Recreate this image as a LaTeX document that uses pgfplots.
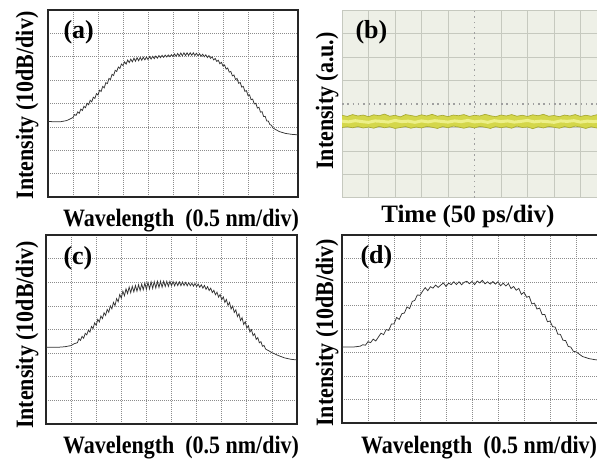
\documentclass[border=0pt]{standalone}
\usepackage{fontspec}
\setmainfont{Liberation Serif}
\newfontfamily\labfont[FakeStretch=0.88]{Liberation Serif}
\usepackage{pgfplots}
\pgfplotsset{compat=1.18}

\definecolor{gridgray}{gray}{0.55}
\definecolor{scopebg}{HTML}{EEF0E7}
\definecolor{scopegrid}{HTML}{C6C9BF}
\definecolor{trace}{HTML}{D4D74A}
\definecolor{tracedark}{HTML}{A9AB34}
\definecolor{tracelight}{HTML}{EDF08A}

\newcommand{\lab}{\labfont\bfseries\fontsize{25}{29}\selectfont}
\newcommand{\tlab}{\bfseries\fontsize{25}{29}\selectfont}
\newcommand{\plab}{\bfseries\fontsize{26}{30}\selectfont}

\pgfplotsset{
  panel/.style={
    scale only axis, xmin=0, xmax=10, ymin=0, ymax=8,
    xticklabels={}, yticklabels={},
    major tick length=0pt, grid=major,
    every axis x label/.style={at={(axis description cs:0.5,0)}, anchor=base},
    every axis y label/.style={at={(axis description cs:0,0.5)}, anchor=base, rotate=90},
    label style={font=\lab},
  },
  osa/.style={
    panel,
    xtick={1,...,9}, ytick={1,...,7},
    major grid style={gridgray, line width=0.7pt, dash pattern=on 1pt off 1pt},
    axis line style={black!85, line width=1.1pt},
  },
  spec/.style={black!80, line width=0.75pt},
}

\begin{document}
\begin{tikzpicture}
\useasboundingbox (0,0) rectangle (597pt,460pt);
\clip (0,0) rectangle (597pt,460pt);

% (a) spectrum
\begin{axis}[osa, at={(48pt,263pt)}, anchor=south west, width=250pt, height=187pt,
  xlabel={Wavelength\ \ (0.5 nm/div)}, ylabel={Intensity (10dB/div)},
  xlabel style={at={(axis description cs:0.532,0)}, yshift=-30pt},
  ylabel style={at={(axis description cs:0,0.49)}, yshift=15pt}]
\addplot[spec] coordinates {
(0,3.23) (0.25,3.22) (0.5,3.22) (0.75,3.27)
(1,3.40) (1.0625,3.53) (1.125,3.49) (1.1875,3.64)
(1.25,3.58) (1.3125,3.76) (1.375,3.70) (1.4375,3.88)
(1.5,3.82) (1.5625,4.01) (1.625,3.945) (1.6875,4.14)
(1.75,4.07) (1.8125,4.27) (1.875,4.215) (1.9375,4.42)
(2,4.36) (2.0625,4.57) (2.125,4.515) (2.1875,4.73)
(2.25,4.67) (2.3125,4.89) (2.375,4.85) (2.4375,5.07)
(2.5,5.03) (2.5625,5.25) (2.625,5.20) (2.6875,5.42)
(2.75,5.37) (2.8125,5.56) (2.875,5.495) (2.9375,5.69)
(3,5.62) (3.0625,5.78) (3.125,5.685) (3.1875,5.86)
(3.25,5.75) (3.3125,5.90) (3.375,5.78) (3.4375,5.94)
(3.5,5.81) (3.5625,5.96) (3.625,5.83) (3.6875,5.97)
(3.75,5.85) (3.8125,5.98) (3.875,5.865) (3.9375,5.99)
(4,5.88) (4.0625,6.01) (4.125,5.90) (4.1875,6.02)
(4.25,5.92) (4.3125,6.03) (4.375,5.94) (4.4375,6.05)
(4.5,5.96) (4.5625,6.06) (4.625,5.975) (4.6875,6.07)
(4.75,5.99) (4.8125,6.08) (4.875,6.00) (4.9375,6.09)
(5,6.01) (5.0625,6.12) (5.125,6.02) (5.1875,6.14)
(5.25,6.03) (5.3125,6.16) (5.375,6.04) (5.4375,6.17)
(5.5,6.05) (5.5625,6.17) (5.625,6.055) (5.6875,6.17)
(5.75,6.06) (5.8125,6.17) (5.875,6.05) (5.9375,6.15)
(6,6.04) (6.0625,6.13) (6.125,6.02) (6.1875,6.11)
(6.25,6.00) (6.3125,6.08) (6.375,5.965) (6.4375,6.05)
(6.5,5.93) (6.5625,6.00) (6.625,5.865) (6.6875,5.93)
(6.75,5.80) (6.8125,5.85) (6.875,5.70) (6.9375,5.76)
(7,5.60) (7.0625,5.65) (7.125,5.47) (7.1875,5.52)
(7.25,5.34) (7.3125,5.37) (7.375,5.185) (7.4375,5.22)
(7.5,5.03) (7.5625,5.07) (7.625,4.865) (7.6875,4.90)
(7.75,4.70) (7.8125,4.73) (7.875,4.52) (7.9375,4.55)
(8,4.34) (8.0625,4.37) (8.125,4.16) (8.1875,4.19)
(8.25,3.98) (8.3125,4.01) (8.375,3.805) (8.4375,3.84)
(8.5,3.63) (8.5625,3.65) (8.625,3.44) (8.6875,3.45)
(8.75,3.25) (8.8125,3.25) (8.875,3.10) (8.9375,3.07)
(9,2.95) (9.25,2.80) (9.5,2.72) (9.75,2.68) (10,2.66)
};
\node[anchor=base west, font=\plab, xshift=12pt, yshift=-29pt] at (rel axis cs:0,1) {(a)};
\end{axis}

% (b) oscilloscope trace
\begin{axis}[panel, at={(342pt,262pt)}, anchor=south west, width=265pt, height=188pt,
  axis background/.style={fill=scopebg},
  xtick={1,2,3,4,6,7,8,9}, ytick={1,2,3,5,6,7},
  major grid style={scopegrid, line width=0.8pt},
  axis line style={scopegrid, line width=1pt},
  xlabel={Time (50 ps/div)}, ylabel={Intensity (a.u.)},
  xlabel style={at={(axis description cs:0.475,0)}, yshift=-25pt, font=\tlab},
  ylabel style={at={(axis description cs:0,0.516)}, yshift=9pt}]
\addplot[gray!75, line width=1.2pt, dash pattern=on 1.5pt off 3.8pt] coordinates {(0,4) (10,4)};
\addplot[gray!75, line width=1.2pt, dash pattern=on 1.5pt off 3.8pt] coordinates {(5,0) (5,8)};
\addplot[fill=trace, draw=tracedark, line width=0.7pt] coordinates {
(0,3.52) (0.2,3.47) (0.4,3.55) (0.6,3.49) (0.8,3.53) (1,3.46) (1.2,3.54) (1.4,3.50)
(1.6,3.57) (1.8,3.48) (2,3.52) (2.2,3.45) (2.4,3.55) (2.6,3.51) (2.8,3.47) (3,3.54)
(3.2,3.49) (3.4,3.56) (3.6,3.48) (3.8,3.52) (4,3.46) (4.2,3.53) (4.4,3.50) (4.6,3.55)
(4.8,3.47) (5,3.52) (5.2,3.49) (5.4,3.56) (5.6,3.50) (5.8,3.46) (6,3.53) (6.2,3.49)
(6.4,3.55) (6.6,3.48) (6.8,3.52) (7,3.47) (7.2,3.54) (7.4,3.50) (7.6,3.56) (7.8,3.48)
(8,3.51) (8.2,3.46) (8.4,3.53) (8.6,3.49) (8.8,3.55) (9,3.47) (9.2,3.52) (9.4,3.48)
(9.6,3.54) (9.8,3.50) (10,3.52)
(10,3.00) (9.8,3.05) (9.6,2.98) (9.4,3.03) (9.2,2.96) (9,3.02) (8.8,3.06) (8.6,2.99)
(8.4,3.04) (8.2,2.97) (8,3.01) (7.8,3.05) (7.6,2.98) (7.4,3.03) (7.2,2.95) (7,3.02)
(6.8,3.00) (6.6,3.06) (6.4,2.97) (6.2,3.03) (6,2.99) (5.8,3.04) (5.6,2.96) (5.4,3.01)
(5.2,3.05) (5,2.98) (4.8,3.03) (4.6,2.97) (4.4,3.02) (4.2,3.06) (4,2.99) (3.8,3.04)
(3.6,2.96) (3.4,3.01) (3.2,3.05) (3,2.98) (2.8,3.02) (2.6,2.97) (2.4,3.04) (2.2,3.00)
(2,2.96) (1.8,3.03) (1.6,2.99) (1.4,3.05) (1.2,2.97) (1,3.02) (0.8,2.98) (0.6,3.04)
(0.4,2.99) (0.2,3.03) (0,3.00)
};
\addplot[tracelight, line width=3pt] coordinates {
(0,3.27) (0.25,3.24) (0.5,3.29) (0.75,3.25) (1,3.22) (1.25,3.28) (1.5,3.26) (1.75,3.23)
(2,3.30) (2.25,3.25) (2.5,3.27) (2.75,3.22) (3,3.28) (3.25,3.24) (3.5,3.29) (3.75,3.26)
(4,3.23) (4.25,3.28) (4.5,3.25) (4.75,3.30) (5,3.24) (5.25,3.27) (5.5,3.22) (5.75,3.29)
(6,3.25) (6.25,3.28) (6.5,3.23) (6.75,3.26) (7,3.30) (7.25,3.24) (7.5,3.27) (7.75,3.25)
(8,3.22) (8.25,3.28) (8.5,3.26) (8.75,3.29) (9,3.23) (9.25,3.27) (9.5,3.25) (9.75,3.28)
(10,3.24)
};
\node[anchor=base west, font=\plab, xshift=10pt, yshift=-28pt] at (rel axis cs:0,1) {(b)};
\end{axis}

% (c) spectrum
\begin{axis}[osa, at={(46pt,36pt)}, anchor=south west, width=251pt, height=189pt,
  xlabel={Wavelength\ \ (0.5 nm/div)}, ylabel={Intensity (10dB/div)},
  xlabel style={at={(axis description cs:0.538,0)}, yshift=-30pt},
  ylabel style={at={(axis description cs:0,0.47)}, yshift=13pt}]
\addplot[spec] coordinates {
(0,3.25) (0.25,3.25) (0.5,3.25) (0.75,3.27) (1,3.32) (1.125,3.40)
(1.25,3.44) (1.3125,3.61) (1.375,3.54) (1.4375,3.71)
(1.5,3.63) (1.5625,3.84) (1.625,3.77) (1.6875,3.97)
(1.75,3.89) (1.8125,4.13) (1.875,4.04) (1.9375,4.28)
(2,4.18) (2.0625,4.43) (2.125,4.32) (2.1875,4.57)
(2.25,4.46) (2.3125,4.71) (2.375,4.60) (2.4375,4.85)
(2.5,4.73) (2.5625,5.00) (2.625,4.875) (2.6875,5.15)
(2.75,5.01) (2.8125,5.31) (2.875,5.175) (2.9375,5.48)
(3,5.33) (3.0625,5.62) (3.125,5.43) (3.1875,5.72)
(3.25,5.52) (3.3125,5.80) (3.375,5.555) (3.4375,5.83)
(3.5,5.59) (3.5625,5.865) (3.625,5.62) (3.6875,5.895)
(3.75,5.65) (3.8125,5.925) (3.875,5.68) (3.9375,5.965)
(4,5.70) (4.0625,5.99) (4.125,5.72) (4.1875,6.02)
(4.25,5.74) (4.3125,6.03) (4.375,5.755) (4.4375,6.04)
(4.5,5.78) (4.5625,6.045) (4.625,5.79) (4.6875,6.045)
(4.75,5.82) (4.8125,6.04) (4.875,5.825) (4.9375,6.04)
(5,5.85) (5.0625,6.03) (5.125,5.85) (5.1875,6.02)
(5.25,5.86) (5.3125,6.02) (5.375,5.855) (5.4375,6.01)
(5.5,5.86) (5.5625,5.995) (5.625,5.85) (5.6875,5.985)
(5.75,5.85) (5.8125,5.96) (5.875,5.835) (5.9375,5.95)
(6,5.82) (6.0625,5.925) (6.125,5.79) (6.1875,5.895)
(6.25,5.75) (6.3125,5.865) (6.375,5.70) (6.4375,5.815)
(6.5,5.65) (6.5625,5.75) (6.625,5.565) (6.6875,5.66)
(6.75,5.47) (6.8125,5.58) (6.875,5.37) (6.9375,5.48)
(7,5.26) (7.0625,5.38) (7.125,5.145) (7.1875,5.27)
(7.25,5.02) (7.3125,5.145) (7.375,4.87) (7.4375,4.995)
(7.5,4.72) (7.5625,4.835) (7.625,4.55) (7.6875,4.665)
(7.75,4.38) (7.8125,4.50) (7.875,4.215) (7.9375,4.33)
(8,4.06) (8.0625,4.16) (8.125,3.895) (8.1875,3.99)
(8.25,3.74) (8.3125,3.82) (8.375,3.58) (8.4375,3.66)
(8.5,3.44) (8.5625,3.485) (8.625,3.29) (8.6875,3.325)
(8.75,3.17) (8.875,3.10) (9,3.02) (9.25,2.90) (9.5,2.80) (9.75,2.74) (10,2.71)
};
\node[anchor=base west, font=\plab, xshift=14pt, yshift=-29pt] at (rel axis cs:0,1) {(c)};
\end{axis}

% (d) spectrum
\begin{axis}[osa, at={(342pt,37pt)}, anchor=south west, width=260pt, height=188pt,
  xlabel={Wavelength\ \ (0.5 nm/div)}, ylabel={Intensity (10dB/div)},
  xlabel style={at={(axis description cs:0.527,0)}, yshift=-31pt},
  ylabel style={at={(axis description cs:0,0.48)}, yshift=9pt}]
\addplot[spec] coordinates {
(0,3.23) (0.25,3.23) (0.5,3.24) (0.7,3.27) (0.8,3.33) (0.9,3.31) (1.0,3.46) (1.1,3.42)
(1.2,3.57) (1.3,3.49) (1.4,3.66) (1.5,3.82) (1.6,3.76) (1.7,3.98) (1.8,3.94) (1.9,4.21)
(2.0,4.22) (2.1,4.49) (2.2,4.41) (2.3,4.65) (2.4,4.68) (2.5,4.94) (2.6,4.87) (2.7,5.17)
(2.8,5.22) (2.9,5.45) (3.0,5.43) (3.1,5.61) (3.2,5.76) (3.3,5.63) (3.4,5.80) (3.5,5.74)
(3.6,5.87) (3.7,5.77) (3.8,5.87) (3.9,5.96) (4.0,5.81) (4.1,5.95) (4.2,5.89) (4.3,6.01)
(4.4,5.89) (4.5,6.01) (4.6,5.88) (4.7,5.99) (4.8,6.03) (4.9,5.93) (5.0,6.02) (5.1,5.89)
(5.2,6.04) (5.3,5.96) (5.4,6.07) (5.5,5.92) (5.6,6.01) (5.7,5.91) (5.8,6.02) (5.9,5.91)
(6.0,6.01) (6.1,5.84) (6.2,5.95) (6.3,5.83) (6.4,5.94) (6.5,5.72) (6.6,5.81) (6.7,5.65)
(6.8,5.73) (6.9,5.47) (7.0,5.57) (7.1,5.35) (7.2,5.39) (7.3,5.07) (7.4,5.10) (7.5,4.85)
(7.6,4.89) (7.7,4.61) (7.8,4.62) (7.9,4.31) (8.0,4.34) (8.1,4.10) (8.2,4.08) (8.3,3.78)
(8.4,3.77) (8.5,3.52) (8.6,3.51) (8.7,3.26) (8.8,3.23) (8.9,3.05) (9.0,3.03) (9.25,2.83)
(9.5,2.74) (9.75,2.69) (10,2.67)
};
\node[anchor=base west, font=\plab, xshift=15pt, yshift=-28pt] at (rel axis cs:0,1) {(d)};
\end{axis}
\end{tikzpicture}
\end{document}
